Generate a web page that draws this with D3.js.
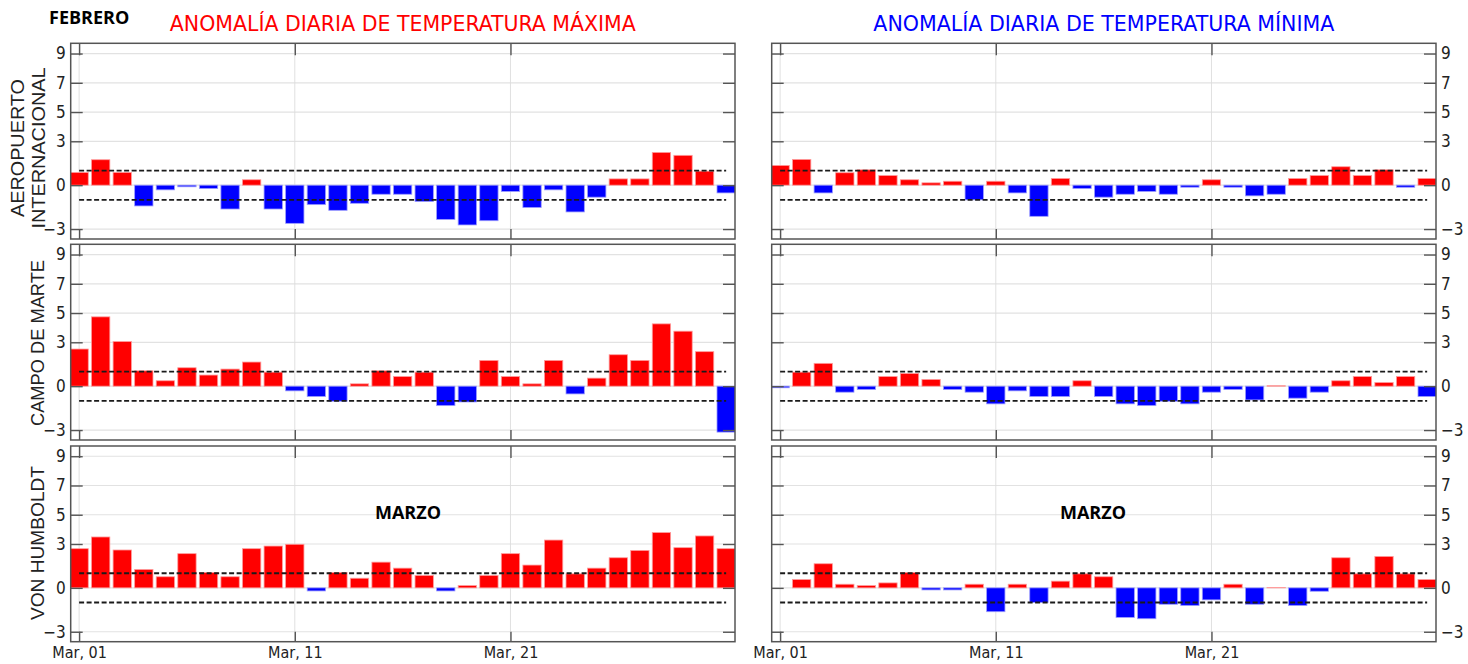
<!DOCTYPE html>
<html>
<head>
<meta charset="utf-8">
<script src="https://cdn.jsdelivr.net/npm/d3@7"></script>
<style>
  body { margin: 0; background: #fff; }
</style>
</head>
<body>
<div id="main"></div>
<script>
// days of March
var days = d3.range(1, 32);

var stationLines = [["AEROPUERTO", "INTERNACIONAL"], ["CAMPO DE MARTE"], ["VON HUMBOLDT"]];
var titles = ["ANOMALÍA DIARIA DE TEMPERATURA MÁXIMA", "ANOMALÍA DIARIA DE TEMPERATURA MÍNIMA"];
var titleColors = ["#ff0000", "#0000ff"];

// anomalies (°C), Mar 01 .. Mar 31
var aeropuertoMax = [0.87, 1.74, 0.87, -1.42, -0.32, -0.11, -0.23, -1.63, 0.37, -1.63,
  -2.61, -1.33, -1.72, -1.24, -0.62, -0.62, -1.12, -2.34, -2.72, -2.43,
  -0.43, -1.53, -0.32, -1.83, -0.82, 0.43, 0.43, 2.24, 2.04, 0.96, -0.53];
var aeropuertoMin = [1.35, 1.76, -0.53, 0.85, 1.05, 0.66, 0.37, 0.16, 0.27, -1.0,
  0.27, -0.53, -2.13, 0.46, -0.23, -0.82, -0.62, -0.43, -0.62, -0.14,
  0.37, -0.14, -0.73, -0.62, 0.46, 0.66, 1.26, 0.66, 1.05, -0.14, 0.46];
var campoMax = [2.54, 4.74, 3.05, 1.05, 0.37, 1.26, 0.76, 1.17, 1.65, 0.96,
  -0.32, -0.71, -1.03, 0.16, 1.05, 0.66, 0.96, -1.33, -1.08, 1.76,
  0.66, 0.16, 1.76, -0.53, 0.55, 2.15, 1.76, 4.26, 3.76, 2.36, -3.14];
var campoMin = [-0.11, 0.96, 1.56, -0.41, -0.23, 0.66, 0.87, 0.46, -0.23, -0.41,
  -1.21, -0.32, -0.71, -0.71, 0.37, -0.71, -1.21, -1.33, -1.03, -1.21,
  -0.41, -0.23, -0.94, 0.03, -0.82, -0.41, 0.37, 0.66, 0.25, 0.66, -0.71];
var humboldtMax = [2.68, 3.48, 2.59, 1.26, 0.76, 2.34, 1.05, 0.76, 2.68, 2.86,
  2.98, -0.21, 1.05, 0.66, 1.76, 1.35, 0.85, -0.21, 0.16, 0.85,
  2.34, 1.56, 3.27, 0.96, 1.35, 2.06, 2.56, 3.78, 2.75, 3.55, 2.68];
var humboldtMin = [0.0, 0.57, 1.65, 0.25, 0.16, 0.34, 1.05, -0.14, -0.14, 0.25,
  -1.63, 0.25, -1.0, 0.46, 0.96, 0.76, -2.02, -2.11, -1.12, -1.21,
  -0.82, 0.25, -1.12, 0.02, -1.21, -0.23, 2.06, 0.96, 2.15, 0.96, 0.57];

// rows = stations, columns = [max, min]
var series = [[aeropuertoMax, aeropuertoMin], [campoMax, campoMin], [humboldtMax, humboldtMin]];

var yTicks = [9, 7, 5, 3, 0, -3];
var xTickDays = [1, 11, 21];
var xTickLabels = ["Mar, 01", "Mar, 11", "Mar, 21"];
var thresholds = [1, -1];

var W = 1468, H = 664;
var colX = [70.7, 771.7], panelW = 664.3;
var rowY = [43.3, 244.3, 446], panelH = 195.7;
var labelCY = [148, 343, 543];
// rotated label lengths, measured on the reference
var labelLen = [[138, 161], [166], [154]];

var svg = d3.select("#main")
  .append("svg")
    .attr("width", W)
    .attr("height", H)
    .style("display", "block");

var condensed = "'DejaVu Sans Condensed', 'DejaVu Sans', sans-serif";

// x scale shared by every panel (offset per column)
var xBase = d3.scaleLinear().domain([0.61, 31.41]).range([0, panelW]);
var yBase = d3.scaleLinear().domain([-3.68, 9.7]).range([panelH, 0]);

// titles
titles.forEach(function(t, c) {
  svg.append("text")
    .attr("x", colX[c] + panelW / 2)
    .attr("y", 31)
    .attr("text-anchor", "middle")
    .attr("textLength", c === 0 ? 466 : 461)
    .attr("lengthAdjust", "spacingAndGlyphs")
    .style("font-family", condensed)
    .style("font-size", "21.5px")
    .style("fill", titleColors[c])
    .text(t);
});

svg.append("text")
  .attr("x", 49)
  .attr("y", 24)
  .style("font-family", "'Open Sans', sans-serif")
  .style("font-weight", "bold")
  .style("font-size", "18px")
  .style("fill", "#000")
  .text("FEBRERO");

// station labels
stationLines.forEach(function(lines, r) {
  var baseX = lines.length === 2 ? [23.5, 45] : [44];
  lines.forEach(function(line, i) {
    svg.append("text")
      .attr("transform", "translate(" + baseX[i] + "," + labelCY[r] + ")rotate(-90)")
      .attr("text-anchor", "middle")
      .attr("textLength", labelLen[r][i])
      .attr("lengthAdjust", "spacingAndGlyphs")
      .style("font-family", "'Liberation Sans', Arimo, Arial, sans-serif")
      .style("font-size", "19px")
      .style("fill", "#222")
      .text(line);
  });
});

series.forEach(function(rowSeries, r) {
  rowSeries.forEach(function(values, c) {
    var g = svg.append("g")
      .attr("transform", "translate(" + colX[c] + "," + rowY[r] + ")");

    var clipId = "clip-" + r + "-" + c;
    g.append("clipPath").attr("id", clipId)
      .append("rect").attr("width", panelW).attr("height", panelH);

    // grid
    g.selectAll(".hgrid").data(yTicks).enter().append("line")
      .attr("x1", 0).attr("x2", panelW)
      .attr("y1", function(d) { return yBase(d); })
      .attr("y2", function(d) { return yBase(d); })
      .style("stroke", "#e2e2e2")
      .style("stroke-width", 1.2);
    g.selectAll(".vgrid").data(xTickDays).enter().append("line")
      .attr("y1", 0).attr("y2", panelH)
      .attr("x1", function(d) { return xBase(d); })
      .attr("x2", function(d) { return xBase(d); })
      .style("stroke", "#dcdcdc")
      .style("stroke-width", 0.9);

    // bars
    var bw = (xBase(2) - xBase(1)) * 0.85;
    g.append("g").attr("clip-path", "url(#" + clipId + ")")
      .selectAll("rect").data(values).enter().append("rect")
        .attr("x", function(d, i) { return xBase(days[i]) - bw / 2; })
        .attr("y", function(d) { return yBase(Math.max(0, d)); })
        .attr("width", bw)
        .attr("height", function(d) { return Math.abs(yBase(d) - yBase(0)); })
        .attr("fill", function(d) { return d >= 0 ? "#ff0000" : "#0000ff"; })
        .style("stroke", function(d) { return d >= 0 ? "#ff9c9c" : "#9c9cff"; })
        .style("stroke-width", 0.8);

    // threshold lines
    g.selectAll(".thr").data(thresholds).enter().append("line")
      .attr("x1", xBase(days[0])).attr("x2", xBase(days[days.length - 1]))
      .attr("y1", function(d) { return yBase(d); })
      .attr("y2", function(d) { return yBase(d); })
      .style("stroke", "#1a1a1a")
      .style("stroke-width", 1.8)
      .style("stroke-dasharray", "5,2.5");

    // axes with inward ticks
    var left = g.append("g").call(d3.axisLeft(yBase).tickValues(yTicks).tickSize(-12).tickPadding(5).tickFormat(d3.format("d")));
    var right = g.append("g").attr("transform", "translate(" + panelW + ",0)")
      .call(d3.axisRight(yBase).tickValues(yTicks).tickSize(-12).tickPadding(5).tickFormat(d3.format("d")));
    var top = g.append("g").call(d3.axisTop(xBase).tickValues(xTickDays).tickSize(-12).tickFormat(""));
    var bottom = g.append("g").attr("transform", "translate(0," + panelH + ")")
      .call(d3.axisBottom(xBase).tickValues(xTickDays).tickSize(-10).tickPadding(5)
        .tickFormat(function(d, i) { return xTickLabels[i]; }));

    [left, right, top, bottom].forEach(function(a) {
      a.select(".domain").remove();
      a.selectAll("line").style("stroke", "#555").style("stroke-width", 1.4);
      a.selectAll("text").style("font-family", condensed).style("fill", "#222");
    });
    left.selectAll("text").style("font-size", "17px");
    right.selectAll("text").style("font-size", "17px");
    if (c === 0) right.selectAll("text").remove();
    if (c === 1) left.selectAll("text").remove();
    bottom.selectAll("text").style("font-size", "16px");
    if (r < 2) bottom.selectAll("text").remove();

    // frame
    g.append("rect")
      .attr("width", panelW).attr("height", panelH)
      .style("fill", "none")
      .style("stroke", "#555")
      .style("stroke-width", 1.5);

    if (r === 2) {
      g.append("text")
        .attr("x", c === 0 ? 408 - colX[0] : 1093 - colX[1])
        .attr("y", 519 - rowY[2])
        .attr("text-anchor", "middle")
        .style("font-family", "'Open Sans', sans-serif")
        .style("font-weight", "bold")
        .style("font-size", "18px")
        .style("fill", "#000")
        .text("MARZO");
    }
  });
});
</script>
</body>
</html>
